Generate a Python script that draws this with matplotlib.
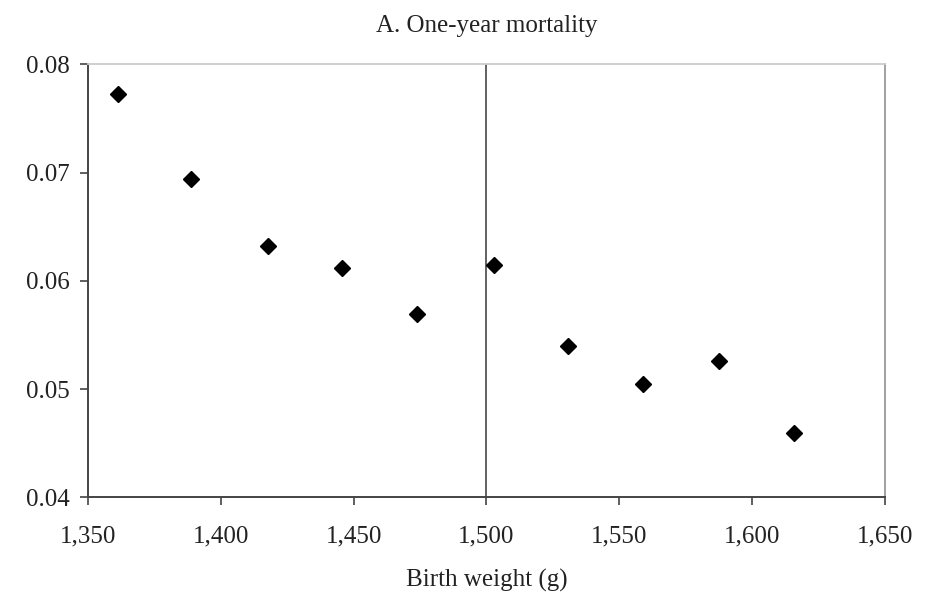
import matplotlib.pyplot as plt
from matplotlib.ticker import FuncFormatter

# Birth weight bins (g) and one-year mortality rate
birth_weight = [1361.4, 1388.7, 1417.7, 1445.7, 1473.8, 1502.7, 1530.7, 1558.8, 1587.6, 1615.8]
mortality = [0.0773, 0.0694, 0.0632, 0.0612, 0.0569, 0.0615, 0.0540, 0.0505, 0.0526, 0.0459]
cutoff = 1500

x_ticks = [1350, 1400, 1450, 1500, 1550, 1600, 1650]
y_ticks = [0.04, 0.05, 0.06, 0.07, 0.08]


def plot_graph():
    plt.rcParams["font.family"] = ["Liberation Serif", "DejaVu Serif"]

    fig = plt.figure(figsize=(9.36, 5.93), dpi=100)
    ax = fig.add_axes([0.094, 0.1614, 0.8515, 0.7302])

    ax.axvline(cutoff, color="#555555", linewidth=1.3, zorder=1)
    ax.plot(birth_weight, mortality, linestyle="none", marker="D",
            markersize=8.5, color="black", zorder=3)

    ax.set_xlim(1350, 1650)
    ax.set_ylim(0.04, 0.08)
    ax.set_xticks(x_ticks)
    ax.set_yticks(y_ticks)
    ax.xaxis.set_major_formatter(FuncFormatter(lambda v, _: f"{int(v):,}"))
    ax.yaxis.set_major_formatter(FuncFormatter(lambda v, _: f"{v:.2f}"))
    ax.tick_params(labelsize=18, color="#444444", length=6, width=1.2,
                   labelcolor="#222222")
    ax.tick_params(axis="x", pad=14)
    ax.tick_params(axis="y", pad=7)

    for side in ("left", "bottom"):
        ax.spines[side].set_color("#444444")
        ax.spines[side].set_linewidth(1.4)
    ax.spines["right"].set_color("#999999")
    ax.spines["right"].set_linewidth(1.3)
    ax.spines["top"].set_color("#cccccc")
    ax.spines["top"].set_linewidth(1.3)

    ax.set_title("A. One-year mortality", fontsize=18, color="#222222",
                 y=1.07, va="center")
    ax.set_xlabel("Birth weight (g)", fontsize=18, color="#222222")
    ax.xaxis.set_label_coords(0.5, -0.193)
    ax.xaxis.label.set_va("center")

    plt.savefig("out.png", dpi=100)


if __name__ == "__main__":
    plot_graph()
